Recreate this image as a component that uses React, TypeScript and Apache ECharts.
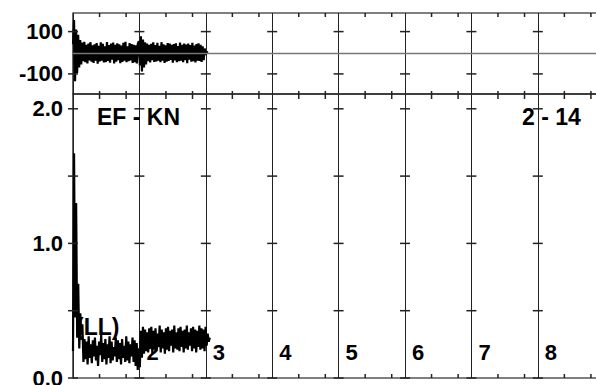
import React, { useEffect, useRef } from "react";
import * as echarts from "echarts";

// ---- data ----
const X_START = 1.0;
const TOP_X_END = 3.03;
const BOTTOM_X_END = 3.06;

// upper trace (units)
const topValues = [
  40, 155, -135, 110, -95, 85, -70, 60,
  -55, 48, -40, 52, -45, 38, -50, 44, -36, 50,
  -42, 35, -48, 40, -38, 46, -52, 33, -41, 49,
  -37, 42, -46, 30, -44, 51, -39, 36, -47, 43,
  -33, 48, -50, 37, -42, 45, -35, 40, -49, 34,
  -43, 47, -38, 52, -45, 31, -40, 46, -36, 41,
  -48, 38, -44, 35, -51, 43,
  55, -60, 78, -88, 62, -70, 50, -55,
  44, -40, 37, -46, 42, -35, 49, -43, 36, -41,
  47, -38, 33, -45, 50, -37, 40, -48, 35, -42,
  46, -39, 43, -34, 38, -47, 41, -36, 45, -44,
  32, -40, 48, -38, 37, -45, 43, -35, 39, -49,
  44, -33, 36, -42, 47, -40, 34, -46, 41, -37,
  45, -39, 38, -43, 30, -35, 20, -10, 5, 0,
];

// lower trace (hundredths)
const bottomValues = [
  20, 167, 45, 130, 30, 70, 22, 48, 32, 40,
  12, 29, 14, 27, 10, 31, 15, 25, 11, 28,
  16, 30, 13, 24, 9, 27, 17, 32, 12, 26,
  14, 29, 10, 25, 15, 31, 11, 27, 13, 23,
  16, 30, 12, 28, 14, 26, 10, 29, 15, 24,
  12, 31, 13, 27, 11, 25, 16, 30, 12, 28,
  9, 26, 6, 22, 8, 35,
  15, 38, 18, 36, 20, 34, 19, 37, 22, 38,
  18, 35, 21, 37, 20, 33, 23, 39, 19, 36,
  22, 34, 18, 37, 21, 38, 20, 35, 24, 36,
  19, 39, 22, 34, 21, 37, 20, 38, 23, 35,
  19, 36, 22, 39, 21, 34, 24, 37, 20, 38,
  22, 36, 19, 35, 23, 39, 21, 37, 22, 36,
  20, 38, 24, 33, 27, 30,
];

const X_LINES = [1, 2, 3, 4, 5, 6, 7, 8, 9];
const X_TICK_LABELS = ["", "2", "3", "4", "5", "6", "7", "8"];
const MINOR_OFFSETS = [0.4, 0.8];
const TOP_Y_TICKS = [100, -100];
const TOP_Y_LABELS = ["100", "-100"];
const BOTTOM_Y_TICKS = [0, 0.5, 1, 1.5, 2];
const BOTTOM_Y_LABELS = ["0.0", "1.0", "2.0"];

const TOP_MIN = -195;
const TOP_MAX = 188;
const BOTTOM_MIN = 0;
const BOTTOM_MAX = 2.11;
const X_MIN = 1;
const X_MAX = 9.4;

const ANNOTATIONS = ["EF - KN", "2 - 14", "(LL)"];

const FONT = "'Liberation Sans', Arial, sans-serif";

export default function App() {
  const ref = useRef<HTMLDivElement>(null);
  useEffect(() => {
    if (!ref.current) return;
    const chart = echarts.init(ref.current, undefined, { renderer: "svg" });

    const toPoints = (vals: number[], end: number, scale: number) => {
      const step = (end - X_START) / (vals.length - 1);
      return vals.map((v, i) => [X_START + i * step, v * scale]);
    };
    const topPts = toPoints(topValues, TOP_X_END, 1);
    const botPts = toPoints(bottomValues, BOTTOM_X_END, 0.01);

    const pxPerUnit = 66.4;
    const gridW = (X_MAX - X_MIN) * pxPerUnit;

    const labelStyle = {
      color: "#000",
      fontSize: 22,
      fontWeight: "bold" as const,
      fontFamily: FONT,
    };

    const xAxisBase = (gi: number) => ({
      type: "value" as const,
      gridIndex: gi,
      min: X_MIN,
      max: X_MAX,
      interval: 1,
      axisLine: { show: false },
      axisTick: { show: false },
      splitLine: { show: true, lineStyle: { color: "#222", width: 1 } },
    });

    const topDash: number[][] = [];
    X_LINES.forEach((k) => TOP_Y_TICKS.forEach((v) => topDash.push([k, v])));
    const botDash: number[][] = [];
    X_LINES.forEach((k) => BOTTOM_Y_TICKS.forEach((v) => botDash.push([k, v])));
    const minorTopBorder: number[][] = [];
    const minorMid: number[][] = [];
    const minorBottom: number[][] = [];
    X_LINES.forEach((k) =>
      MINOR_OFFSETS.forEach((o) => {
        minorTopBorder.push([k + o, TOP_MAX]);
        minorMid.push([k + o, TOP_MIN]);
        minorBottom.push([k + o, BOTTOM_MIN]);
      })
    );

    const dashSeries = (xi: number, data: number[][], size: number[], offset: number[]) => ({
      type: "scatter" as const,
      xAxisIndex: xi,
      yAxisIndex: xi,
      data,
      symbol: "rect",
      symbolSize: size,
      symbolOffset: offset,
      itemStyle: { color: "#222", opacity: 1 },
      silent: true,
      clip: false,
      z: 5,
    });

    const gridBase = {
      left: 73,
      width: gridW,
      show: true,
      borderColor: "#000",
      borderWidth: 1.2,
      containLabel: false,
      outerBoundsMode: "none",
    };

    chart.setOption({
      animation: false,
      backgroundColor: "#fff",
      grid: [
        { ...gridBase, top: 13, height: 81 },
        { ...gridBase, top: 94, height: 284 },
      ],
      xAxis: [
        { ...xAxisBase(0), axisLabel: { show: false } },
        {
          ...xAxisBase(1),
          axisLabel: {
            show: true,
            inside: true,
            margin: 15,
            interval: 0,
            align: "left",
            padding: [0, 0, 0, 7],
            showMaxLabel: false,
            ...labelStyle,
            formatter: (v: number) => {
              const i = X_LINES.indexOf(v);
              return i >= 0 && i < X_TICK_LABELS.length ? X_TICK_LABELS[i] : "";
            },
          },
        },
      ],
      yAxis: [
        {
          type: "value",
          gridIndex: 0,
          min: TOP_MIN,
          max: TOP_MAX,
          axisLine: { show: false },
          axisTick: { show: false },
          splitLine: { show: false },
          axisLabel: {
            margin: 10,
            ...labelStyle,
            formatter: (v: number) => {
              const i = TOP_Y_TICKS.indexOf(v);
              return i >= 0 ? TOP_Y_LABELS[i] : "";
            },
          },
        },
        {
          type: "value",
          gridIndex: 1,
          min: BOTTOM_MIN,
          max: BOTTOM_MAX,
          interval: 0.5,
          axisLine: { show: false },
          axisTick: { show: false },
          splitLine: { show: false },
          axisLabel: {
            margin: 10,
            showMaxLabel: false,
            ...labelStyle,
            formatter: (v: number) => {
              const i = [0, 1, 2].findIndex((t) => Math.abs(t - v) < 1e-9);
              return i >= 0 ? BOTTOM_Y_LABELS[i] : "";
            },
          },
        },
      ],
      series: [
        {
          type: "line",
          xAxisIndex: 0,
          yAxisIndex: 0,
          data: topPts,
          showSymbol: false,
          symbol: "none",
          lineStyle: { color: "#000", width: 2.2 },
          z: 4,
          markLine: {
            silent: true,
            symbol: ["none", "none"],
            label: { show: false },
            lineStyle: { color: "#777", width: 1.3, type: "solid" },
            data: [{ yAxis: 0 }],
          },
        },
        {
          type: "line",
          xAxisIndex: 1,
          yAxisIndex: 1,
          data: botPts,
          showSymbol: false,
          symbol: "none",
          lineStyle: { color: "#000", width: 2.2 },
          z: 4,
        },
        dashSeries(0, topDash, [10, 1.5], [0, 0]),
        dashSeries(1, botDash, [10, 1.5], [0, 0]),
        dashSeries(0, minorTopBorder, [1.5, 4], [0, 2]),
        dashSeries(0, minorMid, [1.5, 8], [0, 1]),
        dashSeries(1, minorBottom, [1.5, 4], [0, -2]),
      ],
      graphic: [
        {
          type: "text",
          left: 97,
          top: 105,
          z: 1,
          style: { text: ANNOTATIONS[0], fill: "#000", fontSize: 23, fontWeight: "bold", fontFamily: FONT },
        },
        {
          type: "text",
          left: 522,
          top: 105,
          z: 1,
          style: { text: ANNOTATIONS[1], fill: "#000", fontSize: 23, fontWeight: "bold", fontFamily: FONT },
        },
        {
          type: "text",
          left: 76,
          top: 315,
          z: 1,
          style: { text: ANNOTATIONS[2], fill: "#000", fontSize: 23, fontWeight: "bold", fontFamily: FONT },
        },
      ],
    });
    return () => chart.dispose();
  }, []);

  return (
    <div
      ref={ref}
      style={{ position: "fixed", left: 0, top: 0, width: 596, height: 385, background: "#fff" }}
    />
  );
}
